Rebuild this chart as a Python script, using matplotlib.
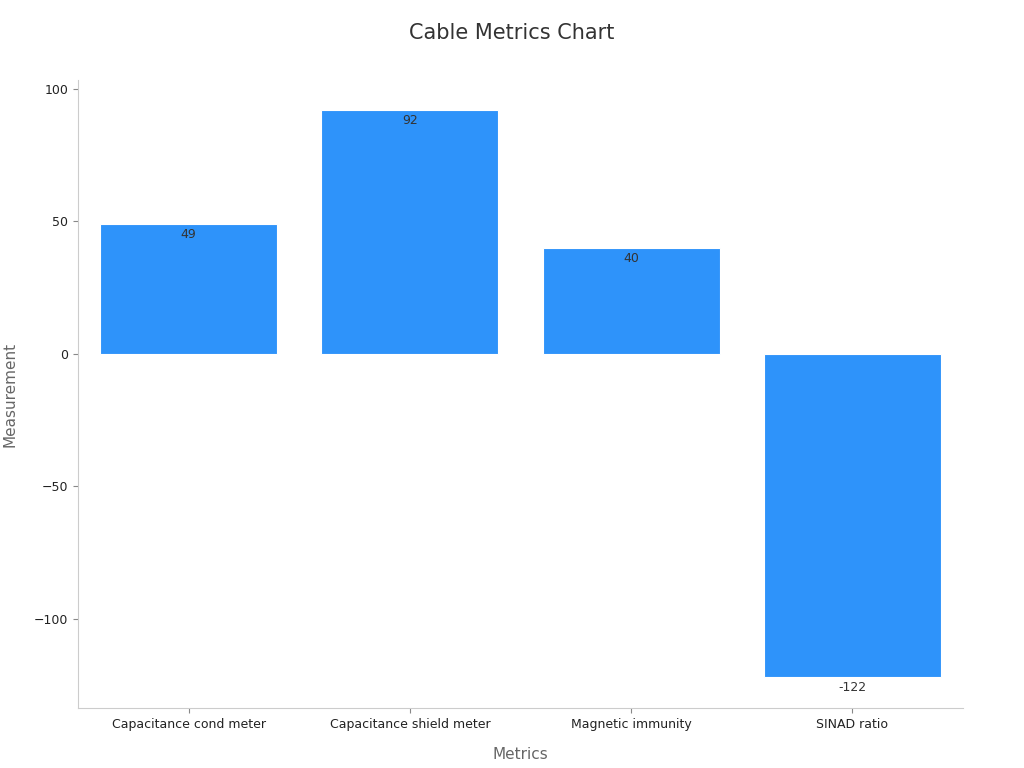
import matplotlib
matplotlib.use("Agg")
import matplotlib.pyplot as plt

categories = ["Capacitance cond meter", "Capacitance shield meter", "Magnetic immunity", "SINAD ratio"]
values = [49, 92, 40, -122]

fig = plt.figure(figsize=(10.24, 7.68), dpi=100)
ax = fig.add_axes([0.0762, 0.078, 0.8642, 0.818])
x = list(range(len(categories)))
ax.bar(x, values, width=0.8, color="#2E93FA", edgecolor="white", linewidth=0.8)
for xi, v in zip(x, values):
    ax.text(xi, v - 1.5, str(v), ha="center", va="top", fontsize=9, color="#333333")
ax.set_xlim(-0.5, 3.5)
ax.set_ylim(-133.6, 103.4)
ax.set_yticks([-100, -50, 0, 50, 100])
ax.set_yticklabels(["\u2212100", "\u221250", "0", "50", "100"])
ax.set_xticks(x)
ax.set_xticklabels(categories)
ax.tick_params(labelsize=9, colors="#222222")
ax.tick_params(color="#888888")
for s in ["top", "right"]:
    ax.spines[s].set_visible(False)
for s in ["left", "bottom"]:
    ax.spines[s].set_color("#cccccc")
ax.set_xlabel("Metrics", fontsize=11, color="#666666", labelpad=12)
ax.set_ylabel("Measurement", fontsize=11, color="#666666", labelpad=12)
fig.suptitle("Cable Metrics Chart", fontsize=15, color="#333333", y=0.97)
fig.savefig("out.png", dpi=100)
